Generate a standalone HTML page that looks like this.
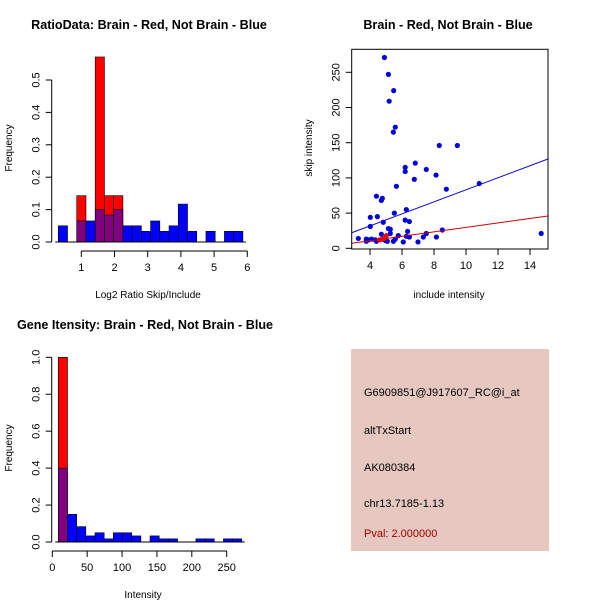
<!DOCTYPE html>
<html><head><meta charset="utf-8"><style>
body{margin:0;background:#fff;width:600px;height:600px;overflow:hidden}
svg{font-family:"Liberation Sans",Arial,sans-serif}
</style></head><body>
<svg id="s" width="600" height="600" xmlns="http://www.w3.org/2000/svg">
<rect width="600" height="600" fill="#fff"/>
<text x="149" y="29" font-size="12.6" font-weight="bold" text-anchor="middle">RatioData: Brain - Red, Not Brain - Blue</text>
<text x="448" y="29" font-size="12.6" font-weight="bold" text-anchor="middle">Brain - Red, Not Brain - Blue</text>
<text x="145" y="329" font-size="12.6" font-weight="bold" text-anchor="middle">Gene Itensity: Brain - Red, Not Brain - Blue</text>
<g id="p1"></g>
<g id="p2"></g>
<g id="p3"></g>
<g>
<rect x="351" y="349" width="198" height="202" fill="#e6c8c0"/>
<text x="364" y="396" font-size="11">G6909851@J917607_RC@i_at</text>
<text x="364" y="434" font-size="11">altTxStart</text>
<text x="364" y="471" font-size="11">AK080384</text>
<text x="364" y="507" font-size="11">chr13.7185-1.13</text>
<text x="364" y="537" font-size="11" fill="#a00000">Pval: 2.000000</text>
</g>
</svg>
<script>
const ratioStart = 0.307, ratioBinW = 0.278;
const ratioBlue = [0.05,0,0.065,0.065,0.1,0.083,0.1,0.05,0.05,0.033,0.065,0.033,0.05,0.117,0.033,0,0.033,0,0.033,0.033];
const ratioRed  = [0,0,0.143,0,0.571,0.143,0.143,0,0,0,0,0,0,0,0,0,0,0,0,0];
const ratioXTicks = [1,2,3,4,5,6];
const ratioYTicks = [0,0.1,0.2,0.3,0.4,0.5];

const intStart = 8.6, intBinW = 13.15;
const intBlue = [0.4,0.15,0.083,0.033,0.05,0.017,0.05,0.05,0.033,0,0.033,0.017,0.017,0,0,0.017,0.017,0,0.017,0.017];
const intRed  = [1,0,0,0,0,0,0,0,0,0,0,0,0,0,0,0,0,0,0,0];
const intXTicks = [0,50,100,150,200,250];
const intYTicks = [0,0.2,0.4,0.6,0.8,1.0];

const blueX = [4.9,5.15,5.48,5.2,5.58,5.46,8.33,9.46,6.83,6.2,6.2,7.52,8.13,6.77,5.65,8.77,10.83,4.4,4.77,4.71,6.27,5.52,4.02,4.46,6.2,6.46,4.83,4.02,5.15,5.27,6.35,8.52,7.52,14.7,4.71,5.27,5.77,6.27,6.46,7.33,8.15,3.27,3.77,3.9,4.33,3.77,4.4,4.96,5.46,5.08,6.08,7.0,4.1,4.83,5.58];
const blueY = [271,247,224,209,172,165,146,146,121,115,109,112,104,98,88,84,92,74,71,68,55,50,44,45,40,38,37,31,28,27,24,26,21,21,20,21,18,17,16,16,16,14,13,12,12,10,10,11,10,10,9,9,13,13,13];
const redX = [4.77,4.9,5.02,4.6];
const redY = [13,14,18,12];
const blueFit = [-2.3, 8.54];
const redFit = [-1.9, 3.16];
const scatXTicks = [4,6,8,10,12,14];
const scatYTicks = [0,50,100,150,200,250];

const NS="http://www.w3.org/2000/svg";
function mk(parent,tag,attrs){const e=document.createElementNS(NS,tag);for(const k in attrs)e.setAttribute(k,attrs[k]);parent.appendChild(e);return e;}

function hist(g,start,bw,blue,red,xs,ys,xt,yt,xl,yl,opt){
  const {x0,px,yBase,py,xAxisY,yAxisX} = opt;
  const X=v=>x0+(v-xs)*px, Y=v=>yBase-v*py;
  blue.forEach((b,i)=>{
    const r=red[i], a=start+i*bw, xa=X(a), w=bw*px;
    if(r>0){const e=mk(g,'rect',{x:xa,y:Y(r),width:w,height:r*py,fill:'#ff0000',stroke:'#000','stroke-width':0.6});
      
      }
    if(b>0){
      const e=mk(g,'rect',{x:xa,y:Y(b),width:w,height:b*py,fill:r>0?'#800080':'#0000ff',stroke:'#000','stroke-width':0.6});
      
      }
  });
  mk(g,'line',{x1:X(start)-3,x2:X(start+bw*blue.length)+3,y1:yBase,y2:yBase,stroke:'#000'});
  mk(g,'line',{x1:X(xt[0]),x2:X(xt[xt.length-1]),y1:xAxisY,y2:xAxisY,stroke:'#000'});
  xt.forEach(t=>{mk(g,'line',{x1:X(t),x2:X(t),y1:xAxisY,y2:xAxisY+6,stroke:'#000'});
    const e=mk(g,'text',{x:X(t),y:xAxisY+20,'font-size':11,'text-anchor':'middle'});e.textContent=t;
    
    });
  mk(g,'line',{x1:yAxisX,x2:yAxisX,y1:Y(yt[0]),y2:Y(yt[yt.length-1]),stroke:'#000'});
  yt.forEach(t=>{mk(g,'line',{x1:yAxisX,x2:yAxisX-6,y1:Y(t),y2:Y(t),stroke:'#000'});
    const e=mk(g,'text',{x:yAxisX-12,y:Y(t),'font-size':11,'text-anchor':'middle',transform:`rotate(-90 ${yAxisX-12} ${Y(t)})`});e.textContent=t.toFixed(1);
    
    });
  const xe=mk(g,'text',{x:opt.xlx,y:opt.xly,'font-size':10,'text-anchor':'middle'});xe.textContent=xl;
  
  
  const ye=mk(g,'text',{x:12,y:opt.yly,'font-size':10,'text-anchor':'middle',transform:`rotate(-90 12 ${opt.yly})`});ye.textContent=yl;
  
  
}
hist(document.getElementById('p1'),ratioStart,ratioBinW,ratioBlue,ratioRed,1,0,ratioXTicks,ratioYTicks,'Log2 Ratio Skip/Include','Frequency',
 {x0:81.3,px:33.2,yBase:242,py:324,xAxisY:251,yAxisX:51.7,xlx:148,xly:298,yly:148});
hist(document.getElementById('p3'),intStart,intBinW,intBlue,intRed,0,0,intXTicks,intYTicks,'Intensity','Frequency',
 {x0:52.3,px:0.6976,yBase:542,py:184.7,xAxisY:551,yAxisX:51.7,xlx:143,xly:598,yly:448});

(function(){
  const g=document.getElementById('p2');
  const L=351.7,R=548,T=49.3,B=249;
  const X=v=>370+(v-4)*16, Y=v=>248.3-v*0.704;
  const xmin=(L-370)/16+4, xmax=(R-370)/16+4;
  mk(g,'defs',{}).innerHTML='<clipPath id="cp"><rect x="'+L+'" y="'+T+'" width="'+(R-L)+'" height="'+(B-T)+'"/></clipPath>';
  blueX.forEach((x,i)=>{const e=mk(g,'circle',{cx:X(x),cy:Y(blueY[i]),r:2.6,fill:'#0000dd'});
    
    });
  redX.forEach((x,i)=>{const e=mk(g,'circle',{cx:X(x),cy:Y(redY[i]),r:2.6,fill:'#ee0000'});
    
    });
  [[blueFit,'#0000cc','blue-fit-line'],[redFit,'#cc0000','red-fit-line']].forEach(([f,c,n])=>{
    const e=mk(g,'line',{x1:X(xmin),y1:Y(f[0]+f[1]*xmin),x2:X(xmax),y2:Y(f[0]+f[1]*xmax),stroke:c,'stroke-width':1,'clip-path':'url(#cp)'});
    
    });
  mk(g,'rect',{x:L,y:T,width:R-L,height:B-T,fill:'none',stroke:'#000'});
  scatXTicks.forEach(t=>{mk(g,'line',{x1:X(t),x2:X(t),y1:B,y2:B+6,stroke:'#000'});
    const e=mk(g,'text',{x:X(t),y:B+20,'font-size':11,'text-anchor':'middle'});e.textContent=t;
    
    });
  scatYTicks.forEach(t=>{mk(g,'line',{x1:L,x2:L-6,y1:Y(t),y2:Y(t),stroke:'#000'});
    const e=mk(g,'text',{x:L-12,y:Y(t),'font-size':11,'text-anchor':'middle',transform:`rotate(-90 ${L-12} ${Y(t)})`});e.textContent=t;
    
    });
  const xe=mk(g,'text',{x:449,y:298,'font-size':10,'text-anchor':'middle'});xe.textContent='include intensity';
  
  
  const ye=mk(g,'text',{x:312,y:148,'font-size':10,'text-anchor':'middle',transform:'rotate(-90 312 148)'});ye.textContent='skip intensity';
  
  
})();
</script>
</body></html>
